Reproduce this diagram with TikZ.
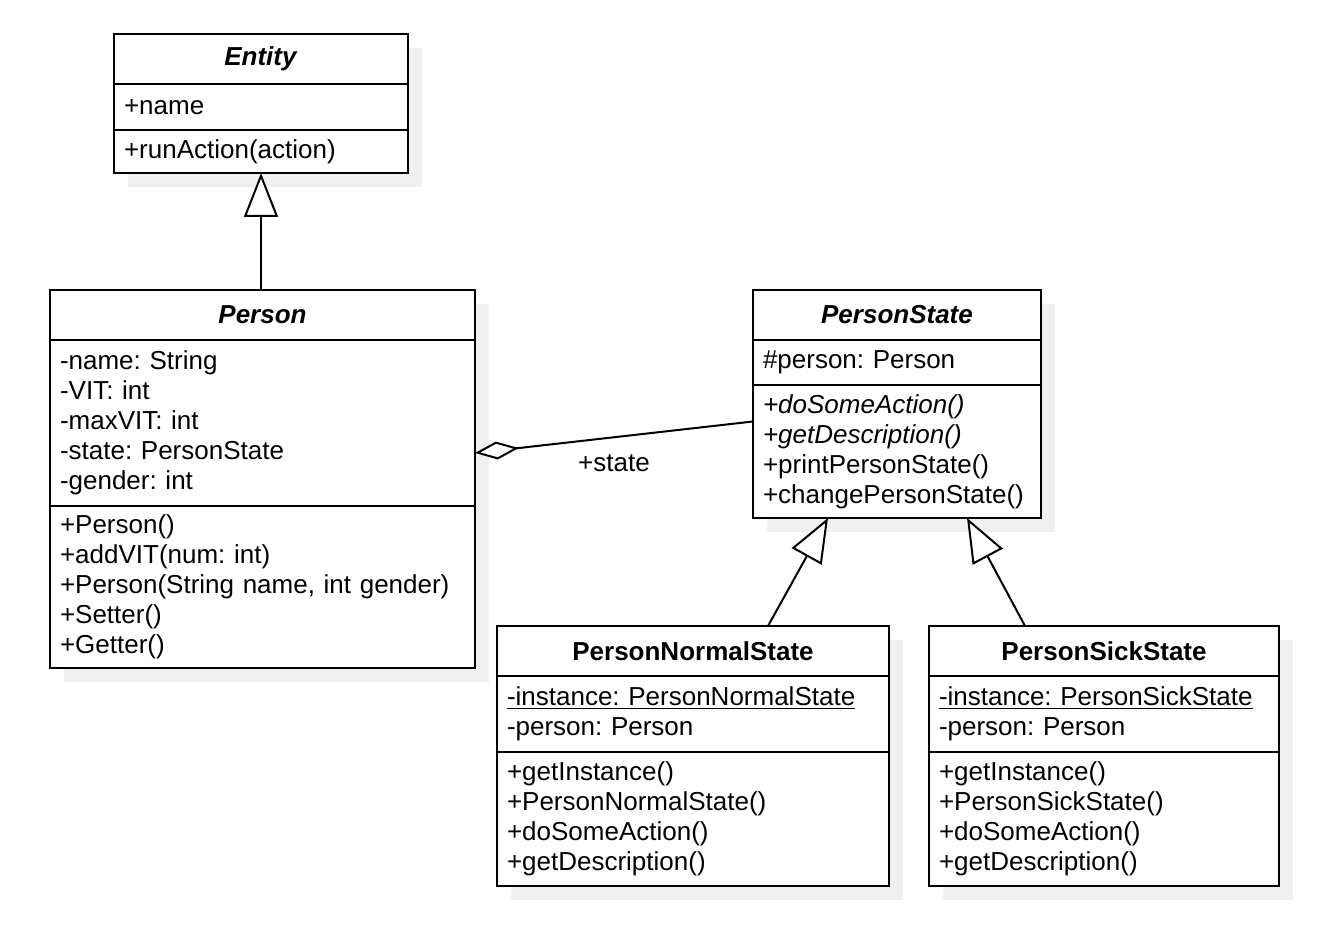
\documentclass[tikz,border=0pt]{standalone}
\usepackage{fontspec}
\setmainfont{Liberation Sans}
\frenchspacing
\usetikzlibrary{positioning,arrows.meta,backgrounds}
\definecolor{shadowgray}{RGB}{240,240,240}
\begin{document}
\begin{tikzpicture}[x=0.5pt,y=-0.5pt,
    every node/.style={font=\fontsize{13}{15}\selectfont},
    head/.style={draw, line width=1pt, outer sep=0pt, fill=white,
      minimum width=#1, minimum height=25pt, anchor=north west,
      font=\fontsize{13}{15}\selectfont\bfseries},
    part/.style={draw, line width=1pt, outer sep=0pt, fill=white,
      text width=#1, align=left, inner xsep=5pt, inner ysep=2pt},
    gen/.style={-{Triangle[open,length=22pt,width=17pt,fill=white]}, line width=1pt},
    agg/.style={{Diamond[open,length=22pt,width=9pt,fill=white]}-, line width=1pt}]
  \useasboundingbox (0,0) rectangle (1328,952);

  % Entity
  \node[head=147pt] (ent) at (114,34) {\textit{Entity}};
  \node[part=137pt, minimum height=23pt, below=0pt of ent] (entA) {+name};
  \node[part=137pt, minimum height=21.5pt, below=0pt of entA] (entO) {+runAction(action)};

  % Person
  \node[head=212.5pt] (per) at (50,290) {\textit{Person}};
  \node[part=202.5pt, minimum height=83pt, below=0pt of per] (perA)
    {-name: String\\-VIT: int\\-maxVIT: int\\-state: PersonState\\-gender: int};
  \node[part=202.5pt, minimum height=81pt, below=0pt of perA] (perO)
    {+Person()\\+addVIT(num: int)\\+Person(String name, int gender)\\+Setter()\\+Getter()};

  % PersonState
  \node[head=144pt] (st) at (753,290) {\textit{PersonState}};
  \node[part=134pt, minimum height=22.5pt, below=0pt of st] (stA) {\#person: Person};
  \node[part=134pt, minimum height=66.5pt, below=0pt of stA] (stO)
    {\textit{+doSomeAction()}\\\textit{+getDescription()}\\+printPersonState()\\+changePersonState()};

  % PersonNormalState
  \node[head=196pt] (nor) at (497,626) {PersonNormalState};
  \node[part=186pt, minimum height=38pt, below=0pt of nor] (norA)
    {\underline{-instance: PersonNormalState}\\-person: Person};
  \node[part=186pt, minimum height=67pt, below=0pt of norA] (norO)
    {+getInstance()\\+PersonNormalState()\\+doSomeAction()\\+getDescription()};

  % PersonSickState
  \node[head=175pt] (sic) at (929,626) {PersonSickState};
  \node[part=165pt, minimum height=38pt, below=0pt of sic] (sicA)
    {\underline{-instance: PersonSickState}\\-person: Person};
  \node[part=165pt, minimum height=67pt, below=0pt of sicA] (sicO)
    {+getInstance()\\+PersonSickState()\\+doSomeAction()\\+getDescription()};

  % shadows
  \begin{scope}[on background layer]
    \fill[shadowgray] ([shift={(7pt,-7pt)}]ent.north west) rectangle ([shift={(7pt,-7pt)}]entO.south east);
    \fill[shadowgray] ([shift={(7pt,-7pt)}]per.north west) rectangle ([shift={(7pt,-7pt)}]perO.south east);
    \fill[shadowgray] ([shift={(7pt,-7pt)}]st.north west) rectangle ([shift={(7pt,-7pt)}]stO.south east);
    \fill[shadowgray] ([shift={(7pt,-7pt)}]nor.north west) rectangle ([shift={(7pt,-7pt)}]norO.south east);
    \fill[shadowgray] ([shift={(7pt,-7pt)}]sic.north west) rectangle ([shift={(7pt,-7pt)}]sicO.south east);
  \end{scope}

  % connectors
  \draw[gen] (entO.south |- per.north) -- (entO.south);
  \draw[gen] ([xshift=135.5pt]nor.north west) -- ([xshift=37.5pt]stO.south west);
  \draw[gen] ([xshift=48pt]sic.north west) -- ([xshift=-37pt]stO.south east);
  \draw[agg] ([yshift=-15pt]perA.east) -- node[below=5pt] (lbl) {+state} ([yshift=15pt]stO.west);
\end{tikzpicture}
\end{document}
